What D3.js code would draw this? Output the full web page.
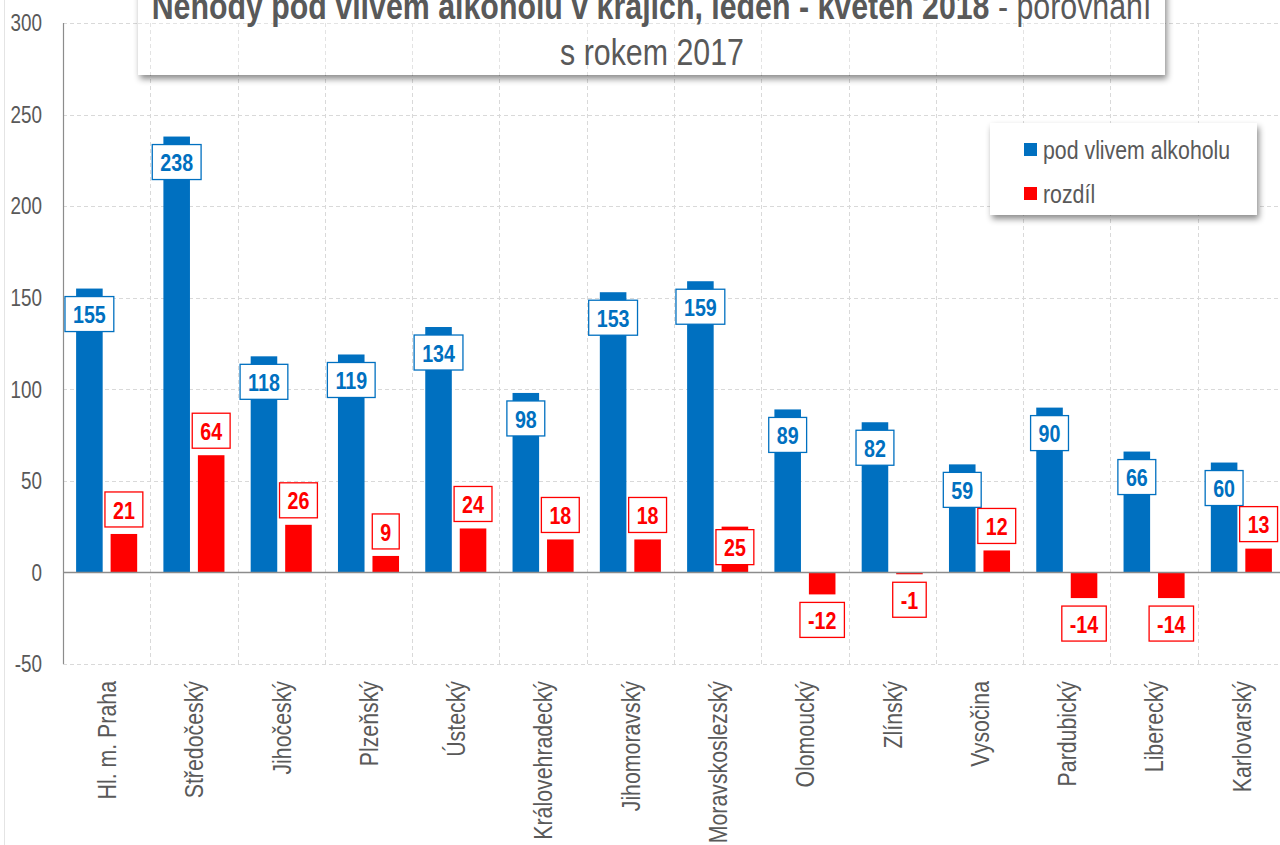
<!DOCTYPE html>
<html><head><meta charset="utf-8">
<script src="https://cdnjs.cloudflare.com/ajax/libs/d3/7.8.5/d3.min.js"></script>
<style>
html,body{margin:0;padding:0;background:#fff;overflow:hidden;}
svg{display:block;}
</style></head>
<body>
<svg id="chart" width="1280" height="845"></svg>
<script>
// ---- data ----
const categories = ["Hl. m. Praha","Středočeský","Jihočeský","Plzeňský","Ústecký","Královehradecký","Jihomoravský","Moravskoslezský","Olomoucký","Zlínský","Vysočina","Pardubický","Liberecký","Karlovarský"];
const alcohol = [155,238,118,119,134,98,153,159,89,82,59,90,66,60];
const difference = [21,64,26,9,24,18,18,25,-12,-1,12,-14,-14,13];
const yTicks = [-50,0,50,100,150,200,250,300];
const seriesNames = ["pod vlivem alkoholu","rozdíl"];
const titleBold = "Nehody pod vlivem alkoholu v krajích, leden - květen 2018";
const titleRest = " - porovnání";
const titleLine2 = "s rokem 2017";

(function(){
// ---- font detection ----
function hasFont(name){
  const c=document.createElement("canvas").getContext("2d");
  c.font="40px monospace"; const a=c.measureText("abcdefghij mwMW 0123").width;
  c.font="40px '"+name+"', monospace"; const b=c.measureText("abcdefghij mwMW 0123").width;
  return Math.abs(a-b)>0.5;
}
const NARROW = hasFont("Liberation Sans Narrow");
const FAM = NARROW ? "'Liberation Sans Narrow'" : "'Liberation Sans', Arial, sans-serif";
const SX = NARROW ? 1 : 0.82;
function styleNarrow(t, size, weight){
  t.attr("font-family",FAM).attr("font-size",size).attr("font-weight",weight||"normal");
  if(SX!==1) t.attr("transform",`scale(${SX},1)`);
  return t;
}

const svg = d3.select("#chart");
const gray="#595959", blue="#0070C0", red="#FF0000";

const defs = svg.append("defs");
const f = defs.append("filter").attr("id","shadow").attr("x","-10%").attr("y","-20%").attr("width","120%").attr("height","160%");
f.append("feDropShadow").attr("dx",2).attr("dy",4).attr("stdDeviation",3).attr("flood-color","#000").attr("flood-opacity",0.45);

// faint outer border
svg.append("rect").attr("x",4.5).attr("y",-10).attr("width",1300).attr("height",900)
  .attr("fill","none").attr("stroke","#e4e4e4").attr("rx",6);

const pL=63, pR=1285, pT=23, pB=664;
const x = d3.scaleBand().domain(categories).range([pL,pR]).paddingInner(0).paddingOuter(0);
const xs = d3.scaleBand().domain(seriesNames).range([0,x.bandwidth()]).paddingInner(0.23).paddingOuter(0.38);
const y = d3.scaleLinear().domain([-50,300]).range([pB,pT]);

// gridlines
const grid = svg.append("g");
grid.selectAll("line.h").data(yTicks.filter(d=>d!==0)).join("line")
  .attr("x1",pL).attr("x2",pR).attr("y1",d=>Math.round(y(d))+0.5).attr("y2",d=>Math.round(y(d))+0.5)
  .attr("stroke","#d9d9d9").attr("stroke-dasharray","4,3");
grid.selectAll("line.v").data(categories.slice(1).map(c=>x(c))).join("line")
  .attr("x1",d=>Math.round(d)+0.5).attr("x2",d=>Math.round(d)+0.5).attr("y1",pT).attr("y2",pB)
  .attr("stroke","#d9d9d9").attr("stroke-dasharray","4,3");

// y axis labels
const yAxis = svg.append("g");
yTicks.forEach(v=>{
  const g=yAxis.append("g").attr("transform",`translate(42,${y(v)})`);
  styleNarrow(g.append("text").attr("text-anchor","end").attr("dy","0.36em").attr("fill",gray).text(v),"23px");
});
svg.append("line").attr("x1",pL+0.5).attr("x2",pL+0.5).attr("y1",pT).attr("y2",pB).attr("stroke","#8c8c8c").attr("stroke-width",1.2);

// bars
const bars = svg.append("g");
bars.selectAll("rect.a").data(categories).join("rect")
  .attr("x",(c)=>x(c)+xs(seriesNames[0])).attr("width",xs.bandwidth())
  .attr("y",(c,i)=>y(alcohol[i])).attr("height",(c,i)=>y(0)-y(alcohol[i])).attr("fill",blue);
bars.selectAll("rect.d").data(categories).join("rect")
  .attr("x",(c)=>x(c)+xs(seriesNames[1])).attr("width",xs.bandwidth())
  .attr("y",(c,i)=>y(Math.max(0,difference[i]))).attr("height",(c,i)=>Math.max(1,Math.abs(y(0)-y(difference[i])))).attr("fill",red);

// zero line
svg.append("line").attr("x1",pL).attr("x2",pR).attr("y1",Math.round(y(0))+0.5).attr("y2",Math.round(y(0))+0.5).attr("stroke","#8c8c8c").attr("stroke-width",1.5);

// labels
function label(cx, boxTop, txt, color){
  const g=svg.append("g").attr("transform",`translate(${cx},${boxTop})`);
  const rect=g.append("rect").attr("fill","#fff").attr("stroke",color).attr("stroke-width",1.3);
  const tg=g.append("g").attr("transform",`translate(0,18)`);
  const t=styleNarrow(tg.append("text").attr("text-anchor","middle").attr("dy","0.36em").attr("fill",color).text(txt),"24px","bold");
  const w=t.node().getComputedTextLength()*SX+16;
  rect.attr("x",-w/2).attr("y",0).attr("width",w).attr("height",35);
}
categories.forEach((c,i)=>{
  const bx=x(c)+xs(seriesNames[0])+xs.bandwidth()/2;
  label(bx, y(alcohol[i])+8, alcohol[i], blue);
  const rx=x(c)+xs(seriesNames[1])+xs.bandwidth()/2;
  const v=difference[i];
  let bt = v>=0 ? y(v)-7-35 : y(v)+8;
  if(c==="Moravskoslezský") bt = y(v)+3; // label sits on bar here
  label(rx, bt, v, red);
});

// x labels
categories.forEach(c=>{
  const g=svg.append("g").attr("transform",`translate(${x(c)+x.bandwidth()/2},681) rotate(-90)`);
  styleNarrow(g.append("text").attr("text-anchor","end").attr("dy","0.36em").attr("fill",gray).text(c),"26px");
});

// title box
svg.append("rect").attr("x",138).attr("y",-20).attr("width",1027).attr("height",95).attr("fill","#fff").attr("filter","url(#shadow)");
const tgrid=svg.append("g");
tgrid.selectAll("line").data(categories.slice(1).map(c=>x(c)).filter(v=>v>138&&v<1165)).join("line")
  .attr("x1",d=>Math.round(d)+0.5).attr("x2",d=>Math.round(d)+0.5).attr("y1",pT).attr("y2",75)
  .attr("stroke","#e3e3e3").attr("stroke-dasharray","4,3");
tgrid.append("line").attr("x1",138).attr("x2",1165).attr("y1",Math.round(y(300))+0.5).attr("y2",Math.round(y(300))+0.5).attr("stroke","#e3e3e3").attr("stroke-dasharray","4,3");
const tl1=svg.append("g").attr("transform","translate(651.5,19)");
const t1=styleNarrow(tl1.append("text").attr("text-anchor","middle").attr("fill",gray),"37px");
t1.append("tspan").attr("font-weight","bold").text(titleBold);
t1.append("tspan").text(titleRest);
const tl2=svg.append("g").attr("transform","translate(652,65)");
styleNarrow(tl2.append("text").attr("text-anchor","middle").attr("fill",gray).text(titleLine2),"37px");

// legend
svg.append("rect").attr("x",990).attr("y",123).attr("width",267).attr("height",92).attr("fill","#fff").attr("filter","url(#shadow)");
const lg=svg.append("g");
[blue,red].forEach((col,i)=>{
  const ly=150+i*44;
  lg.append("rect").attr("x",1024).attr("y",ly-7).attr("width",13).attr("height",13).attr("fill",col);
  const g=lg.append("g").attr("transform",`translate(1043,${ly})`);
  styleNarrow(g.append("text").attr("dy","0.36em").attr("fill",gray).text(seriesNames[i]),"26px");
});
})();
</script>
</body></html>
